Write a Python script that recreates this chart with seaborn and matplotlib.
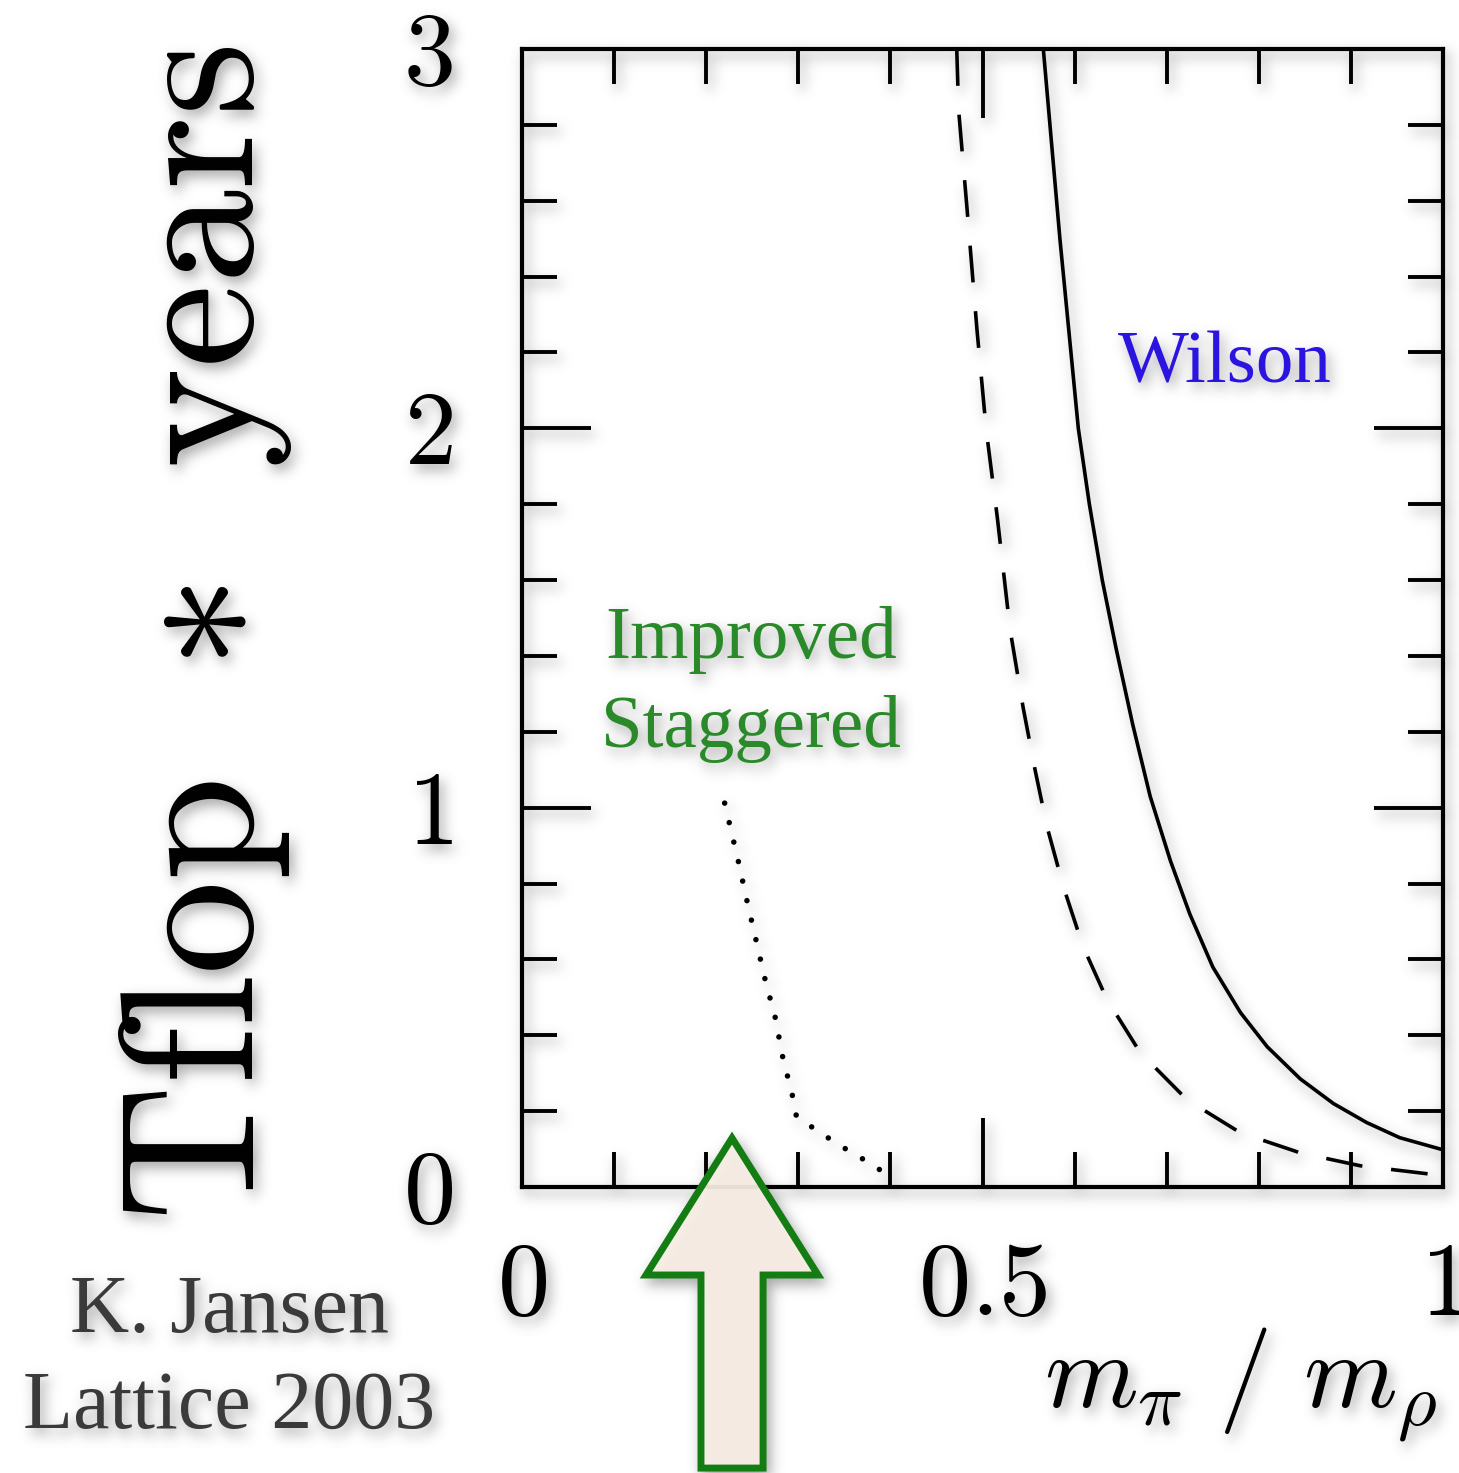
import numpy as np
import pandas as pd
import matplotlib
matplotlib.use("Agg")
import matplotlib.pyplot as plt
import seaborn as sns
from matplotlib.patches import Polygon
from matplotlib.ticker import FixedLocator, MultipleLocator, FuncFormatter

# --- cost curves: machine time (Tflop * years) vs pion/rho mass ratio ---
wilson_x = [0.566, 0.575, 0.584, 0.594, 0.604, 0.616, 0.630, 0.645, 0.663,
            0.682, 0.704, 0.725, 0.750, 0.780, 0.809, 0.845, 0.881, 0.917,
            0.953, 1.000]
wilson_y = [3.000, 2.750, 2.500, 2.250, 2.000, 1.800, 1.600, 1.420, 1.220,
            1.030, 0.860, 0.720, 0.580, 0.460, 0.370, 0.285, 0.220, 0.170,
            0.130, 0.098]

clover_x = [0.472, 0.474, 0.483, 0.494, 0.504, 0.516, 0.530, 0.544, 0.557,
            0.570, 0.588, 0.609, 0.635, 0.671, 0.722, 0.780, 0.845, 0.910,
            0.986, 1.000]
clover_y = [3.000, 2.840, 2.584, 2.259, 1.996, 1.766, 1.468, 1.265, 1.100,
            0.950, 0.790, 0.635, 0.495, 0.355, 0.230, 0.143, 0.090, 0.056,
            0.034, 0.032]

stag_x = [0.220, 0.235, 0.244, 0.264, 0.275, 0.283, 0.294, 0.298, 0.316,
          0.334, 0.353, 0.372, 0.392]
stag_y = [1.012, 0.857, 0.757, 0.546, 0.446, 0.343, 0.237, 0.185, 0.156,
          0.127, 0.098, 0.071, 0.040]

x_major = [0, 0.5, 1]
y_major = [0, 1, 2, 3]

# pointer marking the physical point on the mass-ratio axis
ARROW_X = 0.228
ARROW_TIP = 0.129
ARROW_NECK = -0.232
ARROW_BASE = -0.741
ARROW_HEAD_HALF = 0.0934
ARROW_SHAFT_HALF = 0.0337


def _gauss_blur(a, sigma):
    r = max(1, int(3 * sigma))
    k = np.exp(-0.5 * (np.arange(-r, r + 1) / sigma) ** 2)
    k /= k.sum()
    h, w = a.shape
    p = np.pad(a, r)
    rows = sum(k[i] * p[:, i:i + w] for i in range(2 * r + 1))
    return sum(k[i] * rows[i:i + h, :] for i in range(2 * r + 1))


class SoftShadow:
    """Agg filter: soft grey drop shadow under whatever the artist draws."""

    def __init__(self, sigma=6.5, dx=4, dy=6, alpha=0.55, gray=0.35):
        self.sigma, self.dx, self.dy = sigma, dx, dy
        self.alpha, self.gray = alpha, gray

    def __call__(self, im, dpi):
        pad = int(3 * self.sigma) + max(abs(self.dx), abs(self.dy)) + 2
        src = np.pad(im, ((pad, pad), (pad, pad), (0, 0)))
        a = src[..., 3]
        sh = _gauss_blur(a, self.sigma) * self.alpha
        sh = np.roll(np.roll(sh, self.dy, axis=0), self.dx, axis=1)
        under = sh * (1 - a)
        out_a = a + under
        rgb = (src[..., :3] * a[..., None] + self.gray * under[..., None]) \
            / np.maximum(out_a, 1e-6)[..., None]
        return np.dstack([rgb, np.clip(out_a, 0, 1)]), -pad, -pad


sns.set_theme(style="ticks")
plt.rcParams["font.family"] = ["Liberation Serif", "DejaVu Serif"]
plt.rcParams["mathtext.fontset"] = "cm"
plt.rcParams["axes.edgecolor"] = "black"
plt.rcParams["xtick.color"] = "black"
plt.rcParams["ytick.color"] = "black"

fig = plt.figure(figsize=(14.59, 14.73), dpi=100, facecolor="white")
ax = fig.add_axes([0.3578, 0.19416, 0.63126, 0.77257])
ax.set_facecolor("none")

df_w = pd.DataFrame({"ratio": wilson_x, "cost": wilson_y})
df_c = pd.DataFrame({"ratio": clover_x, "cost": clover_y})
df_s = pd.DataFrame({"ratio": stag_x, "cost": stag_y})

sns.lineplot(data=df_w, x="ratio", y="cost", ax=ax, color="black",
             lw=2.6, estimator=None, sort=False, solid_joinstyle="round")
sns.lineplot(data=df_c, x="ratio", y="cost", ax=ax, color="black",
             lw=2.6, estimator=None, sort=False, linestyle=(0, (10.2, 8)))
sns.lineplot(data=df_s, x="ratio", y="cost", ax=ax, color="black",
             lw=4.0, estimator=None, sort=False, linestyle=(0, (0.001, 3.6)),
             dash_capstyle="round")

ax.set_xlim(0, 1)
ax.set_ylim(0, 3)
ax.xaxis.set_major_locator(FixedLocator(x_major))
ax.xaxis.set_minor_locator(MultipleLocator(0.1))
ax.yaxis.set_major_locator(FixedLocator(y_major))
ax.yaxis.set_minor_locator(MultipleLocator(0.2))
ax.xaxis.set_major_formatter(FuncFormatter(lambda v, p: f"${v:g}$"))
ax.yaxis.set_major_formatter(FuncFormatter(lambda v, p: f"${v:g}$"))

ax.tick_params(which="both", direction="in", top=True, right=True,
               width=2.8, color="black")
ax.tick_params(which="major", length=50)
ax.tick_params(which="minor", length=25)
ax.tick_params(axis="x", which="major", pad=40, labelsize=75)
ax.tick_params(axis="y", which="major", pad=50, labelsize=75)
for s in ax.spines.values():
    s.set_linewidth(3)
    s.set_color("black")
    s.set_visible(True)

ax.set_ylabel(r"$\mathrm{Tflop}\;\,\ast\;\,\mathrm{years}$", fontsize=136,
              va="center", color="black")
ax.yaxis.set_label_coords(-0.344, 0.487)
ax.set_xlabel(r"$m_\pi\ /\ m_\rho$", fontsize=77, ha="right", va="center",
              color="black")
ax.xaxis.set_label_coords(0.9935, -0.174)

ax.text(0.763, 2.122, "Wilson", fontsize=54, color="#2b14e0",
        ha="center", va="baseline")
ax.text(0.2486, 1.395, "Improved", fontsize=54, color="#2a8a2a",
        ha="center", va="baseline")
ax.text(0.2486, 1.160, "Staggered", fontsize=54, color="#2a8a2a",
        ha="center", va="baseline")

arrow = Polygon(
    [(ARROW_X, ARROW_TIP),
     (ARROW_X + ARROW_HEAD_HALF, ARROW_NECK),
     (ARROW_X + ARROW_SHAFT_HALF, ARROW_NECK),
     (ARROW_X + ARROW_SHAFT_HALF, ARROW_BASE),
     (ARROW_X - ARROW_SHAFT_HALF, ARROW_BASE),
     (ARROW_X - ARROW_SHAFT_HALF, ARROW_NECK),
     (ARROW_X - ARROW_HEAD_HALF, ARROW_NECK)],
    closed=True, facecolor=(0.985, 0.945, 0.905, 0.92),
    edgecolor="#137d13", lw=5, joinstyle="miter", clip_on=False, zorder=5)
ax.add_patch(arrow)

ax.set_agg_filter(SoftShadow())

for txt, yb in [("K. Jansen", 0.0957), ("Lattice 2003", 0.0306)]:
    t = fig.text(0.157, yb, txt, fontsize=59, color="#3a3a3a",
                 ha="center", va="baseline")
    t.set_agg_filter(SoftShadow())

fig.savefig("out.png", dpi=100, facecolor="white")
